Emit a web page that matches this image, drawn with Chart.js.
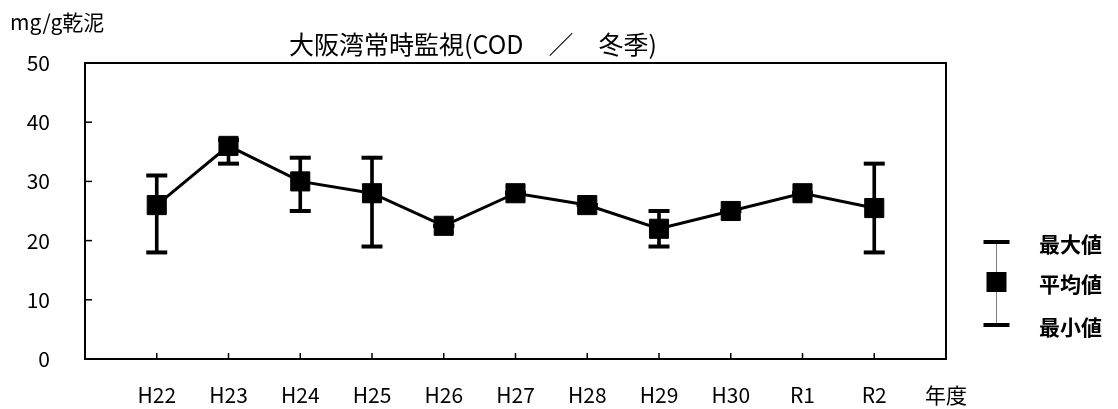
<!DOCTYPE html>
<html>
<head>
<meta charset="utf-8">
<script src="https://cdn.jsdelivr.net/npm/chart.js@4.4.0/dist/chart.umd.min.js"></script>
<style>
    html, body { margin: 0; padding: 0; background: #fff; }
    #wrap { width: 1118px; height: 409px; }
</style>
</head>
<body>
<div id="wrap"><canvas id="codChart" width="1118" height="409"></canvas></div>
<script>
// 年度 (categories)
var years = ['H22', 'H23', 'H24', 'H25', 'H26', 'H27', 'H28', 'H29', 'H30', 'R1', 'R2'];
// values (mg/g乾泥)
var meanVals = [26, 36, 30, 28, 22.5, 28, 26, 22, 25, 28, 25.5];
var maxVals  = [31, 37, 34, 34, 22.5, 28, 26, 25, 25, 28, 33];
var minVals  = [18, 33, 25, 19, 22.5, 28, 26, 19, 25, 28, 18];
// axis ticks and texts
var yTicks = [0, 10, 20, 30, 40, 50];
var xUnit = '年度';
var yUnit = 'mg/g乾泥';
var titleText = '大阪湾常時監視(COD　／　冬季)';
var legendLabels = ['最大値', '平均値', '最小値'];

var FONT = '"Noto Sans CJK JP", "Noto Sans", sans-serif';

document.addEventListener('DOMContentLoaded', function() {
    // build point lists from the arrays (x = 1..n on a linear axis)
    var meanPts = years.map(function(y, i) { return { x: i + 1, y: meanVals[i] }; });
    var maxPts = years.map(function(y, i) { return { x: i + 1, y: maxVals[i] }; });
    var minPts = years.map(function(y, i) { return { x: i + 1, y: minVals[i] }; });
    var rangePts = years.map(function(y, i) { return { x: i + 1, y: [minVals[i], maxVals[i]] }; });

    // frame, inner tick marks and unit label
    var framePlugin = {
        id: 'frame',
        beforeDatasetsDraw: function(chart) {
            var ctx = chart.ctx;
            var a = chart.chartArea;
            var xs = chart.scales.x;
            var ys = chart.scales.y;
            ctx.save();
            ctx.strokeStyle = '#000';
            ctx.lineWidth = 1.5;
            years.forEach(function(y, i) {
                var px = xs.getPixelForValue(i + 1);
                ctx.beginPath();
                ctx.moveTo(px, a.bottom);
                ctx.lineTo(px, a.bottom - 6);
                ctx.stroke();
            });
            yTicks.slice(1, -1).forEach(function(v) {
                var py = ys.getPixelForValue(v);
                ctx.beginPath();
                ctx.moveTo(a.left, py);
                ctx.lineTo(a.left + 7, py);
                ctx.stroke();
            });
            ctx.lineWidth = 2;
            ctx.strokeRect(a.left, a.top, a.right - a.left, a.bottom - a.top);

            ctx.fillStyle = '#000';
            ctx.font = '21px ' + FONT;
            ctx.textBaseline = 'middle';
            ctx.textAlign = 'left';
            ctx.fillText(yUnit, 10, 22);
            ctx.restore();
        }
    };

    // error-bar style legend on the right
    var legendPlugin = {
        id: 'errLegend',
        afterDraw: function(chart) {
            var ctx = chart.ctx;
            var a = chart.chartArea;
            var cx = a.right + 50.5;
            var topY = a.top + 179;
            var midY = a.top + 219;
            var botY = a.top + 262;
            ctx.save();
            // thin stem
            ctx.strokeStyle = '#808080';
            ctx.lineWidth = 1;
            ctx.beginPath();
            ctx.moveTo(cx, topY);
            ctx.lineTo(cx, botY);
            ctx.stroke();
            // caps
            ctx.strokeStyle = '#000';
            ctx.lineWidth = 4;
            [topY, botY].forEach(function(yy) {
                ctx.beginPath();
                ctx.moveTo(cx - 13, yy);
                ctx.lineTo(cx + 13, yy);
                ctx.stroke();
            });
            // square
            ctx.fillStyle = '#000';
            ctx.fillRect(cx - 10, midY - 10, 20, 20);
            // labels
            ctx.font = 'bold 21px ' + FONT;
            ctx.textBaseline = 'middle';
            ctx.textAlign = 'left';
            ctx.fillText(legendLabels[0], a.right + 93, topY + 2);
            ctx.fillText(legendLabels[1], a.right + 93, midY + 2);
            ctx.fillText(legendLabels[2], a.right + 93, botY + 2);
            ctx.restore();
        }
    };

    var ctx = document.getElementById('codChart').getContext('2d');
    new Chart(ctx, {
        type: 'line',
        data: {
            datasets: [
                {
                    label: '平均値',
                    type: 'line',
                    data: meanPts,
                    borderColor: '#000',
                    borderWidth: 3,
                    pointStyle: 'rect',
                    pointRadius: 13.5,
                    pointBackgroundColor: '#000',
                    pointBorderColor: '#000',
                    pointBorderWidth: 1,
                    tension: 0,
                    order: 0
                },
                {
                    label: '最大値',
                    type: 'line',
                    data: maxPts,
                    showLine: false,
                    pointStyle: 'line',
                    pointRadius: 10.5,
                    pointBorderWidth: 4,
                    pointBorderColor: '#000',
                    order: 1
                },
                {
                    label: '最小値',
                    type: 'line',
                    data: minPts,
                    showLine: false,
                    pointStyle: 'line',
                    pointRadius: 10.5,
                    pointBorderWidth: 4,
                    pointBorderColor: '#000',
                    order: 1
                },
                {
                    label: '範囲',
                    type: 'bar',
                    data: rangePts,
                    backgroundColor: '#000',
                    borderWidth: 0,
                    barThickness: 3,
                    order: 2
                }
            ]
        },
        options: {
            responsive: false,
            animation: false,
            events: [],
            devicePixelRatio: 1,
            layout: { padding: { left: 0, right: 172, top: 0, bottom: 0 } },
            plugins: {
                legend: { display: false },
                tooltip: { enabled: false },
                title: {
                    display: true,
                    text: titleText,
                    color: '#000',
                    font: { family: FONT, size: 25, weight: 'normal' },
                    padding: { top: 29, bottom: 4 }
                }
            },
            scales: {
                x: {
                    type: 'linear',
                    min: 0,
                    max: years.length + 1,
                    offset: false,
                    grid: { display: false },
                    border: { display: false },
                    ticks: {
                        stepSize: 1,
                        autoSkip: false,
                        maxRotation: 0,
                        color: '#000',
                        padding: 15,
                        font: { family: FONT, size: 21 },
                        callback: function(v) {
                            if (v >= 1 && v <= years.length) return years[v - 1];
                            if (v === years.length + 1) return xUnit;
                            return '';
                        }
                    },
                    afterFit: function(s) { s.height = 50; }
                },
                y: {
                    min: yTicks[0],
                    max: yTicks[yTicks.length - 1],
                    grid: { display: false },
                    border: { display: false },
                    ticks: {
                        stepSize: 10,
                        color: '#000',
                        padding: 27,
                        font: { family: FONT, size: 21 }
                    },
                    afterFit: function(s) { s.width = 85; }
                }
            }
        },
        plugins: [framePlugin, legendPlugin]
    });
});
</script>
</body>
</html>
